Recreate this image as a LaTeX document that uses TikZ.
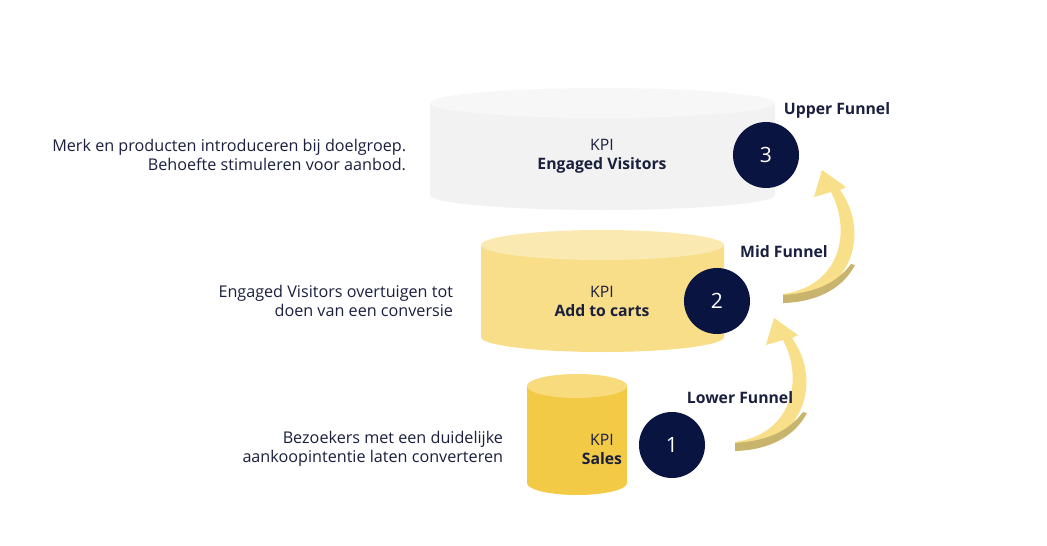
\documentclass[tikz,border=0pt]{standalone}
\usepackage{fontspec}
\setmainfont{Open Sans}
\definecolor{navy}{HTML}{0A1440}
\definecolor{ink}{HTML}{1A1F3D}
\definecolor{greyside}{HTML}{F2F2F2}
\definecolor{greytop}{HTML}{F7F7F7}
\definecolor{midside}{HTML}{F8DE88}
\definecolor{midtop}{HTML}{FAEAB2}
\definecolor{lowside}{HTML}{F2CA46}
\definecolor{lowtop}{HTML}{F7DB7C}
\definecolor{arrowlight}{HTML}{F8DF8A}
\definecolor{arrowdark}{HTML}{C8B46C}

\tikzset{
  stepdot/.style={circle, fill=navy, minimum size=1.65cm, inner sep=0pt, text=white, font=\fontsize{15}{18}\selectfont},
  kpi/.style={text=ink, font=\fontsize{11.2}{13.5}\selectfont, align=center},
  funnel/.style={text=ink, font=\fontsize{11.2}{13.5}\selectfont\bfseries},
  note/.style={text=ink, font=\fontsize{11.5}{13.5}\selectfont, align=right, anchor=east},
}

% cylinder: #1 left x, #2 right x, #3 top y, #4 bottom y, #5 ry, #6 side, #7 top
\newcommand{\tank}[7]{
  \fill[#6] (#1,#3) -- (#1,#4) arc[start angle=180, end angle=0, x radius={(#2-#1)/2}, y radius=#5]
    -- (#2,#3) -- cycle;
  \fill[#7] ({(#1+#2)/2},#3) ellipse[x radius={(#2-#1)/2}, y radius=#5];
}
\newcommand{\bandarrow}{
  \fill[arrowlight] (783,303) .. controls (850,298) and (872,235) .. (840,190)
    -- (846,187) -- (822,170) -- (814,197) -- (831,192)
    .. controls (852,232) and (840,286) .. (783,294) -- cycle;
  \fill[arrowdark] (783,303) .. controls (818,302) and (843,288) .. (855,265)
    -- (851,264) .. controls (836,284) and (814,293) .. (783,295) -- cycle;
}

\begin{document}
\begin{tikzpicture}[x=0.025cm, y=-0.025cm]
  \useasboundingbox (0,0) rectangle (1047,546);

  % cylinders
  \tank{430}{775}{103}{195}{15}{greyside}{greytop}
  \tank{481}{724}{245}{337}{15}{midside}{midtop}
  \tank{527}{627}{386}{483}{12}{lowside}{lowtop}

  % arrows
  \bandarrow
  \begin{scope}[shift={(-48,148)}]
    \bandarrow
  \end{scope}

  % KPI labels
  \node[kpi] (kpi3) at (602,156) {KPI\\\textbf{Engaged Visitors}};
  \node[kpi] (kpi2) at (602,301) {KPI\\\textbf{Add to carts}};
  \node[kpi] (kpi1) at (602,449) {KPI\\\textbf{Sales}};

  % steps
  \node[stepdot] (s3) at (766,155) {3};
  \node[stepdot] (s2) at (717,301) {2};
  \node[stepdot] (s1) at (672,445) {1};

  \node[funnel] (upper) at (837,110) {Upper Funnel};
  \node[funnel] (mid) at (784,252) {Mid Funnel};
  \node[funnel] (lower) at (740,398) {Lower Funnel};

  % descriptions
  \node[note] (n3) at (411,155) {Merk en producten introduceren bij doelgroep.\\Behoefte stimuleren voor aanbod.};
  \node[note] (n2) at (458,301) {Engaged Visitors overtuigen tot\\doen van een conversie};
  \node[note] (n1) at (508,449) {Bezoekers met een duidelijke\\aankoopintentie laten converteren};
\end{tikzpicture}
\end{document}
